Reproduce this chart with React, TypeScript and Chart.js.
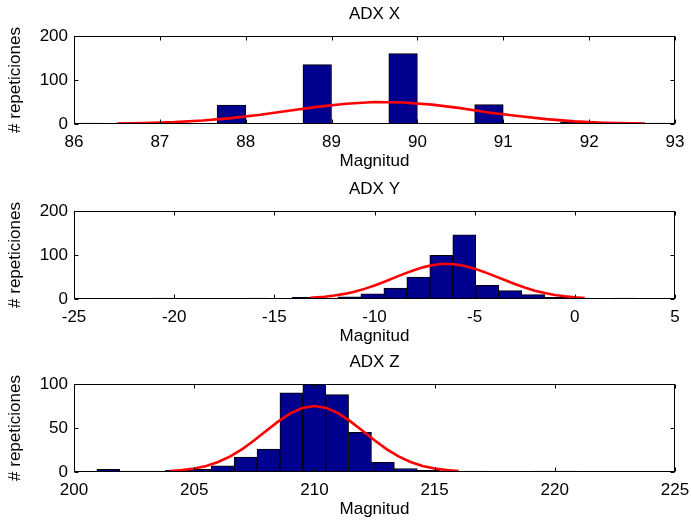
import React, { useEffect, useRef } from 'react';
import { Chart, registerables } from 'chart.js';

Chart.register(...registerables);

// ---------- ADX X ----------
const binsX = [86.167, 86.5, 86.833, 87.167, 87.5, 87.833, 88.167, 88.5, 88.833, 89.167, 89.5, 89.833, 90.167, 90.5, 90.833, 91.167, 91.5, 91.833, 92.167, 92.5, 92.833];
const countsX = [2, 0, 3, 0, 0, 43, 0, 0, 135, 0, 0, 160, 0, 0, 44, 0, 0, 5, 0, 0, 2];
const fitXposX = [86.5, 86.83, 87.17, 87.5, 87.83, 88.17, 88.5, 88.83, 89.17, 89.5, 89.83, 90.17, 90.5, 90.83, 91.17, 91.5, 91.83, 92.17, 92.5, 92.65];
const fitValX = [0.9, 2.0, 4.2, 7.8, 13.4, 21, 30, 39, 46, 50, 49, 44, 36, 26, 18, 11, 6, 3, 1.5, 1.0];

// ---------- ADX Y ----------
const binsY = [-20.427, -19.28, -18.133, -16.987, -15.84, -14.693, -13.547, -12.4, -11.253, -10.107, -8.96, -7.813, -6.667, -5.52, -4.373, -3.227, -2.08, -0.933, 0.213, 1.36, 2.507];
const countsY = [2, 1, 1, 1, 2, 0, 4, 2, 5, 12, 25, 50, 99, 146, 31, 19, 10, 4, 2, 1, 2];
const fitXposY = [-13.2, -12.5, -12, -11.5, -11, -10.5, -10, -9.5, -9, -8.5, -8, -7.5, -7, -6.5, -6, -5.5, -5, -4.5, -4, -3.5, -3, -2.5, -2, -1.5, -1, -0.5, 0, 0.5];
const fitValY = [2.6, 5.1, 7.8, 11.6, 16.7, 23, 30.6, 39.3, 48.5, 57.7, 66, 73, 78, 80, 79, 75, 69, 61, 52, 43, 34, 26, 19, 13.5, 9.2, 6.1, 3.8, 2.4];

// ---------- ADX Z ----------
const binsZ = [201.426, 202.378, 203.33, 204.282, 205.234, 206.186, 207.138, 208.09, 209.042, 209.994, 210.946, 211.898, 212.85, 213.802, 214.754, 215.706, 216.658, 217.61, 218.562, 219.514, 220.466];
const countsZ = [3, 1, 1, 2, 3, 7, 17, 26, 90, 100, 88, 45, 11, 4, 2, 1, 1, 0.5, 0, 1, 1];
const fitXposZ = [204, 204.5, 205, 205.5, 206, 206.5, 207, 207.5, 208, 208.5, 209, 209.5, 210, 210.5, 211, 211.5, 212, 212.5, 213, 213.5, 214, 214.5, 215, 215.5, 216];
const fitValZ = [1.1, 2.1, 4.0, 6.9, 11.4, 17.7, 26, 36, 46.8, 57.5, 66.7, 72.8, 75, 72.8, 66.7, 57.5, 46.8, 36, 26, 17.7, 11.4, 6.9, 4.0, 2.1, 1.1];

const titles = ['ADX X', 'ADX Y', 'ADX Z'];
const xLimits = [[86, 93, 1], [-25, 5, 5], [200, 225, 5]];
const yLimits = [[200, 100], [200, 100], [100, 50]];
const xLabel = 'Magnitud';
const yLabel = '# repeticiones';

const FONT = 'Liberation Sans, Arial, sans-serif';
const FS = 17;

const boxPlugin = {
  id: 'matlabBox',
  afterDatasetsDraw(chart: any) {
    const { ctx, chartArea: a, scales } = chart;
    ctx.save();
    ctx.strokeStyle = '#000';
    ctx.lineWidth = 1;
    const l = Math.round(a.left) + 0.5;
    const r = Math.round(a.right) - 0.5;
    const t = Math.round(a.top) + 0.5;
    const b = Math.round(a.bottom) - 0.5;
    ctx.strokeRect(l, t, r - l, b - t);
    const tl = 4;
    ctx.beginPath();
    scales.x.ticks.forEach((_: any, i: number) => {
      const px = Math.round(scales.x.getPixelForTick(i)) + 0.5;
      ctx.moveTo(px, b);
      ctx.lineTo(px, b - tl);
      ctx.moveTo(px, t);
      ctx.lineTo(px, t + tl);
    });
    scales.y.ticks.forEach((_: any, i: number) => {
      const py = Math.round(scales.y.getPixelForTick(i)) + 0.5;
      ctx.moveTo(l, py);
      ctx.lineTo(l + tl, py);
      ctx.moveTo(r, py);
      ctx.lineTo(r - tl, py);
    });
    ctx.stroke();
    ctx.restore();
  },
};

type PanelProps = {
  idx: number;
  bins: number[];
  counts: number[];
  fx: number[];
  fy: number[];
  top: number;
};

function Panel({ idx, bins, counts, fx, fy, top }: PanelProps) {
  const ref = useRef<HTMLCanvasElement | null>(null);
  useEffect(() => {
    if (!ref.current) return;
    const [xmin, xmax, xstep] = xLimits[idx];
    const [ymax, ystep] = yLimits[idx];
    const chart = new Chart(ref.current, {
      type: 'bar',
      data: {
        datasets: [
          {
            type: 'line',
            data: fx.map((x, i) => ({ x, y: fy[i] })),
            borderColor: '#ff0000',
            borderWidth: 2.6,
            pointRadius: 0,
            tension: 0,
            fill: false,
            order: 0,
          } as any,
          {
            type: 'bar',
            data: bins.map((x, i) => ({ x, y: counts[i] })),
            backgroundColor: 'rgb(0,0,143)',
            borderColor: '#000',
            borderWidth: 1,
            barPercentage: 1,
            categoryPercentage: 1,
            order: 1,
          } as any,
        ],
      },
      options: {
        responsive: false,
        animation: false,
        devicePixelRatio: 1,
        layout: { padding: { left: 0, right: 16, top: 0, bottom: 0 } },
        plugins: {
          legend: { display: false },
          tooltip: { enabled: false },
          title: {
            display: true,
            text: titles[idx],
            color: '#000',
            fullSize: false,
            font: { family: FONT, size: FS, weight: 'normal', lineHeight: 1.2 },
            padding: { top: 3.8, bottom: 11.8 },
          },
        },
        scales: {
          x: {
            type: 'linear',
            min: xmin,
            max: xmax,
            offset: false,
            grid: { display: false, drawTicks: false },
            border: { display: false },
            ticks: {
              stepSize: xstep,
              autoSkip: false,
              maxRotation: 0,
              padding: 8,
              color: '#000',
              font: { family: FONT, size: FS },
            },
            title: {
              display: true,
              text: xLabel,
              color: '#000',
              font: { family: FONT, size: FS, lineHeight: 1.2 },
              padding: { top: 0, bottom: 3.8 },
            },
            afterFit: (s: any) => {
              s.height = 51;
              s.paddingLeft = 0;
              s.paddingRight = 0;
            },
          },
          y: {
            type: 'linear',
            min: 0,
            max: ymax,
            grid: { display: false, drawTicks: false },
            border: { display: false },
            ticks: {
              stepSize: ystep,
              padding: 6,
              color: '#000',
              font: { family: FONT, size: FS },
            },
            title: {
              display: true,
              text: yLabel,
              color: '#000',
              font: { family: FONT, size: FS, lineHeight: 1.2 },
              padding: { top: 5.5, bottom: 0 },
            },
            afterFit: (s: any) => {
              s.width = 74;
              s.paddingTop = 0;
              s.paddingBottom = 0;
            },
          },
        },
      } as any,
      plugins: [boxPlugin],
    });
    return () => chart.destroy();
  }, [idx, bins, counts, fx, fy]);

  return (
    <canvas
      ref={ref}
      width={691}
      height={175}
      style={{ position: 'absolute', left: 0, top, width: 691, height: 175, display: 'block' }}
    />
  );
}

export default function App() {
  return (
    <div style={{ position: 'absolute', left: 0, top: 0, width: 691, height: 525, background: '#fff', overflow: 'hidden' }}>
      <Panel idx={0} bins={binsX} counts={countsX} fx={fitXposX} fy={fitValX} top={0} />
      <Panel idx={1} bins={binsY} counts={countsY} fx={fitXposY} fy={fitValY} top={175} />
      <Panel idx={2} bins={binsZ} counts={countsZ} fx={fitXposZ} fy={fitValZ} top={348} />
    </div>
  );
}
